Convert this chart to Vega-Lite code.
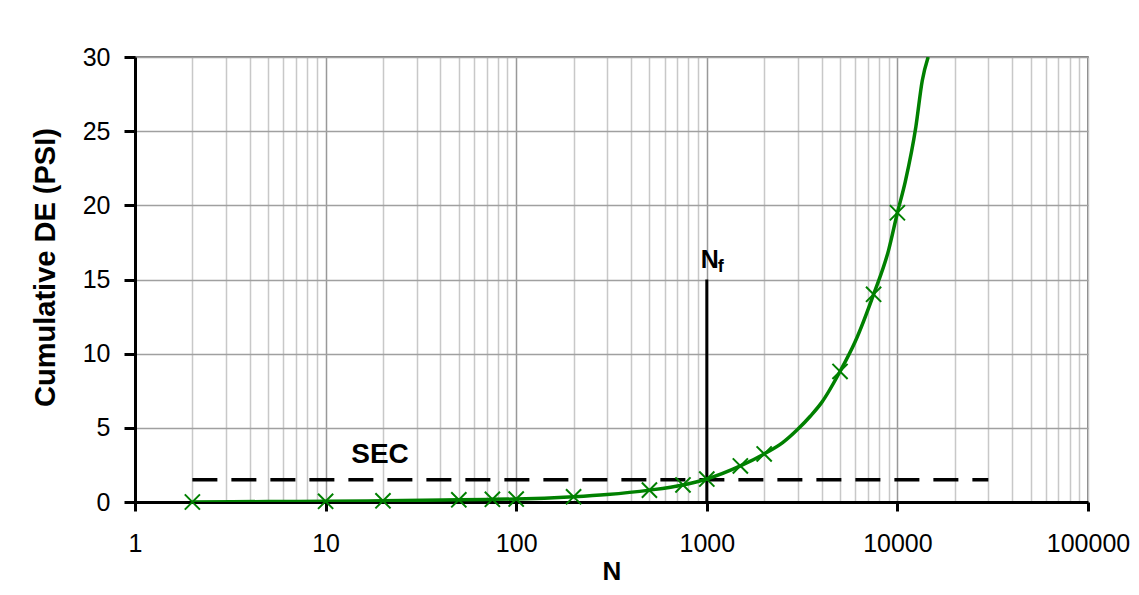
{
  "$schema": "https://vega.github.io/schema/vega-lite/v6.json",
  "width": 953,
  "height": 445,
  "autosize": "none",
  "padding": {"left": 135, "top": 57, "right": 51, "bottom": 93},
  "background": "white",
  "config": {
    "view": {"stroke": "#555555", "strokeWidth": 1.5},
    "font": "Liberation Sans"
  },
  "datasets": {
    "curve": [
      {"N": 2, "DE": 0}, {"N": 5, "DE": 0.03}, {"N": 10, "DE": 0.05}, {"N": 20, "DE": 0.08},
      {"N": 50, "DE": 0.15}, {"N": 75, "DE": 0.18}, {"N": 100, "DE": 0.2}, {"N": 200, "DE": 0.35},
      {"N": 300, "DE": 0.5}, {"N": 500, "DE": 0.8}, {"N": 750, "DE": 1.15}, {"N": 1000, "DE": 1.55},
      {"N": 1500, "DE": 2.43}, {"N": 2000, "DE": 3.24}, {"N": 2500, "DE": 4.0}, {"N": 3000, "DE": 4.9},
      {"N": 3500, "DE": 5.8}, {"N": 4000, "DE": 6.7}, {"N": 5000, "DE": 8.8}, {"N": 6000, "DE": 10.8},
      {"N": 7500, "DE": 14.0}, {"N": 9000, "DE": 17.0}, {"N": 10000, "DE": 19.5}, {"N": 11000, "DE": 21.6},
      {"N": 12500, "DE": 25.3}, {"N": 13500, "DE": 28.4}, {"N": 14500, "DE": 30}
    ],
    "markers": [
      {"N": 2, "DE": 0}, {"N": 10, "DE": 0.05}, {"N": 20, "DE": 0.08}, {"N": 50, "DE": 0.15},
      {"N": 75, "DE": 0.18}, {"N": 100, "DE": 0.2}, {"N": 200, "DE": 0.35}, {"N": 500, "DE": 0.8},
      {"N": 750, "DE": 1.15}, {"N": 1000, "DE": 1.55}, {"N": 1500, "DE": 2.43}, {"N": 2000, "DE": 3.24},
      {"N": 5000, "DE": 8.8}, {"N": 7500, "DE": 14.0}, {"N": 10000, "DE": 19.5}
    ],
    "sec": [{"N1": 2, "N2": 30000, "DE": 1.5}],
    "nf": [{"N": 1000, "DE1": 0, "DE2": 15}],
    "labels": [
      {"N": 19.3, "DE": 3.2, "txt": "SEC"}
    ],
    "nlabel": [{"N": 1000, "DE": 15.78, "txt": "N"}],
    "flabel": [{"N": 1000, "DE": 15.5, "txt": "f"}]
  },
  "layer": [
    {
      "data": {"name": "sec"},
      "mark": {"type": "rule", "color": "black", "strokeWidth": 3.5, "strokeDash": [25, 14]},
      "encoding": {
        "x": {"field": "N1", "type": "quantitative",
          "scale": {"type": "log", "domain": [1, 100000], "nice": false},
          "axis": {
            "title": "N",
            "titleFontSize": 26, "titleFontWeight": "bold", "titleColor": "black", "titlePadding": 2,
            "values": [1,2,3,4,5,6,7,8,9,10,20,30,40,50,60,70,80,90,100,200,300,400,500,600,700,800,900,1000,2000,3000,4000,5000,6000,7000,8000,9000,10000,20000,30000,40000,50000,60000,70000,80000,90000,100000],
            "format": "d",
            "labelExpr": "indexof([1,10,100,1000,10000,100000], datum.value) >= 0 ? datum.label : ''",
            "labelOverlap": false, "labelFlush": false, "labelBound": false,
            "labelFontSize": 25, "labelColor": "black", "labelPadding": 20,
            "grid": true,
            "gridColor": {"condition": {"test": "indexof([10,100,1000,10000], datum.value) >= 0", "value": "#999999"}, "value": "#c8c8c8"},
            "gridWidth": 1.5,
            "ticks": true, "tickSize": 9, "tickWidth": 3, "tickColor": "black",
            "tickOpacity": {"condition": {"test": "indexof([1,10,100,1000,10000,100000], datum.value) >= 0", "value": 1}, "value": 0},
            "domain": true, "domainColor": "black", "domainWidth": 3
          }
        },
        "x2": {"field": "N2"},
        "y": {"field": "DE", "type": "quantitative",
          "scale": {"domain": [0, 30], "nice": false},
          "axis": {
            "title": "Cumulative DE (PSI)",
            "titleFontSize": 29, "titleFontWeight": "bold", "titleColor": "black", "titlePadding": 22,
            "titleY": 210,
            "values": [0, 5, 10, 15, 20, 25, 30],
            "labelFontSize": 25, "labelColor": "black", "labelPadding": 14,
            "grid": true, "gridColor": "#a0a0a0", "gridWidth": 1.5,
            "ticks": true, "tickSize": 11, "tickWidth": 3, "tickColor": "black",
            "domain": true, "domainColor": "black", "domainWidth": 3
          }
        }
      }
    },
    {
      "data": {"name": "nf"},
      "mark": {"type": "rule", "color": "black", "strokeWidth": 3},
      "encoding": {
        "x": {"field": "N", "type": "quantitative"},
        "y": {"field": "DE1", "type": "quantitative"},
        "y2": {"field": "DE2"}
      }
    },
    {
      "data": {"name": "curve"},
      "mark": {"type": "line", "color": "#008000", "strokeWidth": 3.5, "interpolate": "monotone", "clip": true},
      "encoding": {
        "x": {"field": "N", "type": "quantitative"},
        "y": {"field": "DE", "type": "quantitative"}
      }
    },
    {
      "data": {"name": "markers"},
      "mark": {"type": "point", "shape": "M-1,-1L1,1M-1,1L1,-1", "filled": false, "stroke": "#008000", "strokeWidth": 2, "size": 230, "opacity": 1},
      "encoding": {
        "x": {"field": "N", "type": "quantitative"},
        "y": {"field": "DE", "type": "quantitative"}
      }
    },
    {
      "data": {"name": "labels"},
      "mark": {"type": "text", "fontSize": 28, "fontWeight": "bold", "color": "black", "align": "center", "baseline": "middle"},
      "encoding": {
        "x": {"field": "N", "type": "quantitative"},
        "y": {"field": "DE", "type": "quantitative"},
        "text": {"field": "txt"}
      }
    },
    {
      "data": {"name": "nlabel"},
      "mark": {"type": "text", "fontSize": 25, "fontWeight": "bold", "color": "black", "align": "left", "baseline": "alphabetic", "dx": -6},
      "encoding": {
        "x": {"field": "N", "type": "quantitative"},
        "y": {"field": "DE", "type": "quantitative"},
        "text": {"field": "txt"}
      }
    },
    {
      "data": {"name": "flabel"},
      "mark": {"type": "text", "fontSize": 18, "fontWeight": "bold", "color": "black", "align": "left", "baseline": "alphabetic", "dx": 11},
      "encoding": {
        "x": {"field": "N", "type": "quantitative"},
        "y": {"field": "DE", "type": "quantitative"},
        "text": {"field": "txt"}
      }
    }
  ]
}
